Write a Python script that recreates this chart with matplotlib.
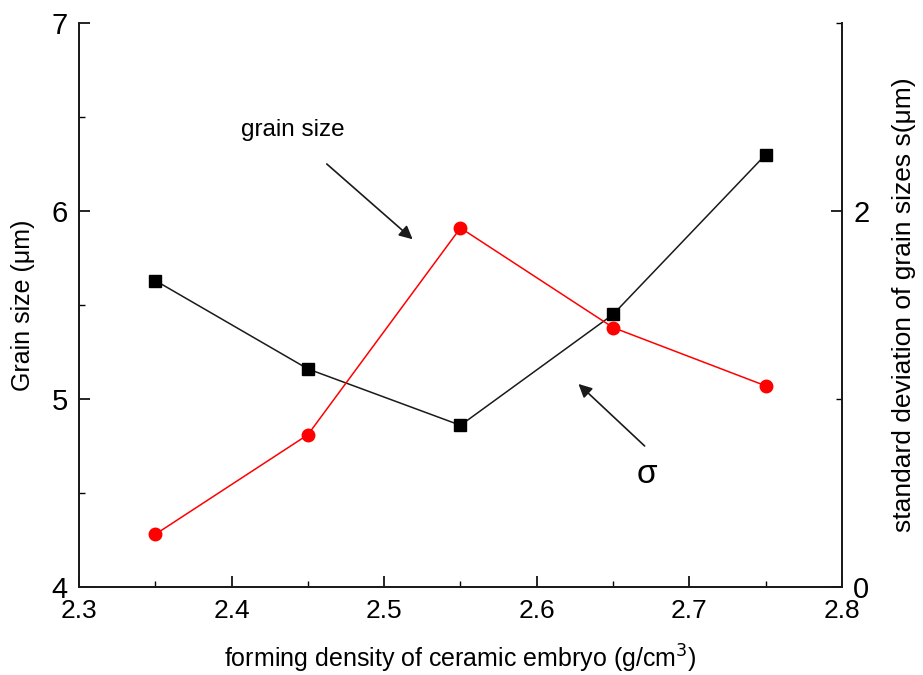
import matplotlib
matplotlib.use("Agg")
import matplotlib.pyplot as plt
from matplotlib.ticker import MultipleLocator

plt.rcParams['font.family'] = ['Liberation Sans', 'DejaVu Sans']

density = [2.35, 2.45, 2.55, 2.65, 2.75]
grain_size = [5.63, 5.16, 4.86, 5.45, 6.30]
sigma = [0.28, 0.81, 1.91, 1.38, 1.07]

x_ticks = [2.3, 2.4, 2.5, 2.6, 2.7, 2.8]
left_ticks = [4, 5, 6, 7]
right_ticks = [0, 2]

fig = plt.figure(figsize=(9.23, 6.75), dpi=100)
ax = fig.add_axes([0.0856, 0.1304, 0.8266, 0.8355])
ax2 = ax.twinx()

ax.plot(density, grain_size, color='#1a1a1a', lw=1.1, marker='s', ms=8.5,
        mfc='black', mec='black', zorder=3)
ax2.plot(density, sigma, color='#ff0000', lw=1.1, marker='o', ms=9,
         mfc='#ff0000', mec='#ff0000', zorder=3)

ax.set_xlim(2.3, 2.8)
ax.set_ylim(4, 7)
ax2.set_ylim(0, 3)

ax.set_xticks(x_ticks)
ax.set_xticklabels([f"{v:.1f}" for v in x_ticks])
ax.xaxis.set_minor_locator(MultipleLocator(0.05))
ax.set_yticks(left_ticks)
ax.yaxis.set_minor_locator(MultipleLocator(0.5))
ax2.set_yticks(right_ticks)
ax2.yaxis.set_minor_locator(MultipleLocator(1))

for a in (ax, ax2):
    a.spines['top'].set_visible(False)
    for s in a.spines.values():
        s.set_linewidth(1.3)
        s.set_color('#1a1a1a')

ax.tick_params(axis='x', which='major', direction='in', length=8, width=1.2,
               labelsize=19, pad=9)
ax.tick_params(axis='x', which='minor', direction='in', length=4, width=1.0)
ax.tick_params(axis='y', which='major', direction='in', length=8, width=1.2,
               labelsize=21, pad=8)
ax.tick_params(axis='y', which='minor', direction='in', length=4, width=1.0)
ax2.tick_params(axis='y', which='major', direction='in', length=8, width=1.2,
                labelsize=21, pad=8)
ax2.tick_params(axis='y', which='minor', direction='in', length=4, width=1.0)

ax.set_xlabel("forming density of ceramic embryo (g/cm$^3$)", fontsize=18, labelpad=14)
ax.set_ylabel("Grain size (μm)", fontsize=18, labelpad=12)
ax2.set_ylabel("standard deviation of grain sizes s(μm)", fontsize=19, labelpad=16)

ax.text(2.44, 6.43, "grain size", fontsize=17.5, ha='center', va='center')
ax.annotate("", xy=(2.52, 5.84), xytext=(2.461, 6.26),
            arrowprops=dict(arrowstyle='-|>', color='#1a1a1a', lw=1.2,
                            mutation_scale=20))
ax.text(2.672, 4.60, "σ", fontsize=24, ha='center', va='center')
ax.annotate("", xy=(2.626, 5.09), xytext=(2.672, 4.74),
            arrowprops=dict(arrowstyle='-|>', color='#1a1a1a', lw=1.2,
                            mutation_scale=20))

fig.savefig("out.png", dpi=100)
